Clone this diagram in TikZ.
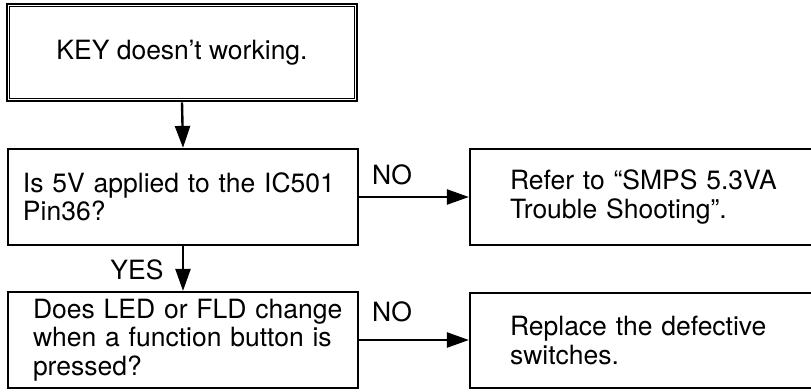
\documentclass[tikz,border=0pt]{standalone}
\usepackage{fontspec}
\setmainfont{TeX Gyre Heros}
\usetikzlibrary{arrows.meta}
\begin{document}
\begin{tikzpicture}[x=1pt,y=-1pt,
  box/.style={draw=black,line width=2.2pt,rectangle,inner ysep=0pt,align=left},
  txt/.style={font=\fontsize{26.5}{28.5}\selectfont},
  conn/.style={line width=2.4pt,-{Triangle[length=22pt,width=15pt]}},
  lbl/.style={font=\fontsize{26.5}{28.5}\selectfont,inner sep=0pt,text depth=0pt}]
\useasboundingbox (0,0) rectangle (811,391);
% top double box
\node[draw=black,line width=2.8pt,minimum width=350pt,minimum height=97pt,inner sep=0pt,txt] (start) at (182,52.5) {KEY doesn’t working.};
\draw[line width=1pt] ([shift={(3.8pt,3.8pt)}]start.south west) rectangle ([shift={(-3.8pt,-3.8pt)}]start.north east);
\node[box,txt,minimum width=350pt,minimum height=96pt,inner xsep=15pt,text width=320pt] (q1) at (183,197) {\mbox{Is 5V applied to the IC501}\\Pin36?};
\node[box,txt,minimum width=350pt,minimum height=96pt,inner xsep=25pt,text width=300pt] (q2) at (183,340) {\mbox{Does LED or FLD change}\\\mbox{when a function button is}\\pressed?};
\node[box,txt,minimum width=345pt,minimum height=96pt,inner xsep=40pt,text width=265pt] (r1) at (642.5,197) {\mbox{Refer to “SMPS 5.3VA}\\\mbox{Trouble Shooting”.}};
\node[box,txt,minimum width=345pt,minimum height=95pt,inner xsep=40pt,text width=265pt] (r2) at (642.5,340.5) {\mbox{Replace the defective}\\switches.};
\draw[conn] (start.south) -- (q1.north);
\draw[conn] (q1.south) -- (q2.north);
\draw[conn] (q1.east) -- (r1.west);
\draw[conn] (q2.east) -- (q2.east -| r2.west);
\node[lbl] (no1) at (392,175) {NO};
\node[lbl] (no2) at (392,312) {NO};
\node[lbl] (yes) at (137,270) {YES};
\end{tikzpicture}
\end{document}
